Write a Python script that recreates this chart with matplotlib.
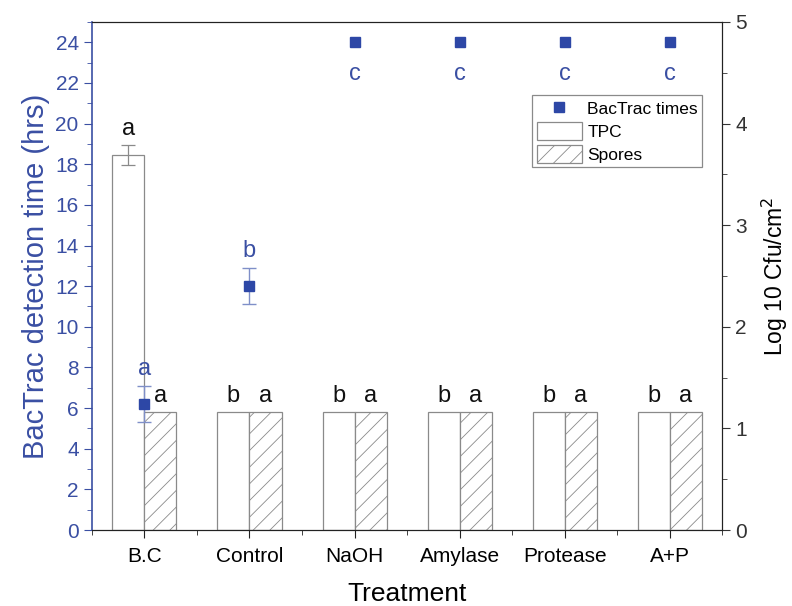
import matplotlib
matplotlib.use("Agg")
import matplotlib.pyplot as plt
import numpy as np
from matplotlib.patches import Patch
from matplotlib.lines import Line2D
from matplotlib.ticker import MultipleLocator

plt.rcParams['font.family'] = ['Liberation Sans', 'DejaVu Sans']
plt.rcParams['hatch.linewidth'] = 0.6
plt.rcParams['hatch.color'] = '#909090'

categories = ["B.C", "Control", "NaOH", "Amylase", "Protease", "A+P"]
tpc = [3.69, 1.16, 1.16, 1.16, 1.16, 1.16]
tpc_err = [0.1, 0, 0, 0, 0, 0]
spores = [1.16, 1.16, 1.16, 1.16, 1.16, 1.16]
bactrac = [6.2, 12.0, 24, 24, 24, 24]
bactrac_err = [0.87, 0.9, 0, 0, 0, 0]
tpc_letters = ["a", "b", "b", "b", "b", "b"]
spore_letters = ["a", "a", "a", "a", "a", "a"]
bactrac_letters = ["a", "b", "c", "c", "c", "c"]

blue = '#3a4fa3'
mblue = '#2d47a6'
gray = '#8a8a8a'

fig = plt.figure(figsize=(7.92, 6.06), dpi=100)
ax = fig.add_axes([0.116, 0.1254, 0.796, 0.8383])
x = np.arange(1, len(categories) + 1)
w = 0.305

ax.bar(x - w/2, tpc, w, color='white', edgecolor=gray, linewidth=0.9)
ax.errorbar(x[:1] - w/2, tpc[:1], yerr=tpc_err[:1], fmt='none', ecolor=gray, elinewidth=0.9, capsize=5, capthick=0.9)
ax.bar(x + w/2, spores, w, color='white', edgecolor=gray, linewidth=0.9, hatch='//')

for i in range(len(categories)):
    top_t = tpc[i] + tpc_err[i]
    ax.text(x[i] - w/2, top_t + 0.05, tpc_letters[i], ha='center', va='bottom', fontsize=17, color='#111111')
    ax.text(x[i] + w/2, spores[i] + 0.05, spore_letters[i], ha='center', va='bottom', fontsize=17, color='#111111')

ax.set_xlim(0.5, 6.5)
ax.set_ylim(0, 5)
ax.set_xticks(x)
ax.set_xticklabels(categories, fontsize=15)
ax.set_xticks(np.arange(0.5, 7, 1), minor=True)
ax.set_xlabel('Treatment', fontsize=19, labelpad=12)
ax.tick_params(axis='x', which='major', direction='out', length=6, color='#222222', pad=6)
ax.tick_params(axis='x', which='minor', direction='out', length=3.5, color='#222222')

ax2 = ax.twinx()
# bars axis on the right
ax.yaxis.tick_right()
ax.yaxis.set_label_position('right')
ax.set_ylabel('Log 10 Cfu/cm$^2$', fontsize=16.5, labelpad=9)
ax.yaxis.set_major_locator(MultipleLocator(1))
ax.yaxis.set_minor_locator(MultipleLocator(0.5))
ax.tick_params(axis='y', which='major', labelsize=15, direction='out', length=6, color='#333333',
               labelcolor='#333333', right=True, left=False, labelright=True, labelleft=False)
ax.tick_params(axis='y', which='minor', direction='out', length=3.5, color='#333333', right=True, left=False)

# BacTrac axis on the left
ax2.yaxis.tick_left()
ax2.yaxis.set_label_position('left')
ax2.plot(x, bactrac, 's', color=mblue, markersize=7, zorder=5)
ax2.errorbar(x[:2], bactrac[:2], yerr=bactrac_err[:2], fmt='none',
             ecolor='#7f8fc8', elinewidth=1.0, capsize=5, capthick=1.0, zorder=4)
for i in range(len(categories)):
    ypos = bactrac[i] + bactrac_err[i] + 0.3 if i < 2 else bactrac[i] - 2.1
    ax2.text(x[i], ypos, bactrac_letters[i], ha='center', va='bottom', fontsize=17, color=blue)
ax2.set_ylim(0, 25)
ax2.set_ylabel('BacTrac detection time (hrs)', fontsize=21, color=blue, labelpad=4)
ax2.set_yticks(np.arange(0, 25, 2))
ax2.yaxis.set_minor_locator(MultipleLocator(1))
ax2.tick_params(axis='y', which='major', labelsize=15, direction='out', length=6, color=blue,
                labelcolor=blue, left=True, right=False, labelleft=True, labelright=False)
ax2.tick_params(axis='y', which='minor', direction='out', length=3.5, color=blue, left=True, right=False)
ax2.spines['left'].set_color(blue)
ax2.spines['left'].set_linewidth(1.2)
for s in ['right', 'top', 'bottom']:
    ax2.spines[s].set_color('#222222')
    ax.spines[s].set_color('#222222')
ax.spines['left'].set_visible(False)

handles = [Line2D([], [], marker='s', linestyle='none', color=mblue, markersize=7),
           Patch(facecolor='white', edgecolor=gray, linewidth=0.9),
           Patch(facecolor='white', edgecolor=gray, linewidth=0.9, hatch='//')]
leg = ax2.legend(handles, ['BacTrac times', 'TPC', 'Spores'], loc='upper right',
                 bbox_to_anchor=(0.968, 0.856), fontsize=12.5, fancybox=False, framealpha=1,
                 edgecolor=gray, borderpad=0.25, labelspacing=0.28, handlelength=2.6,
                 handleheight=1.2, handletextpad=0.3, borderaxespad=0)
leg.get_frame().set_linewidth(0.9)

fig.savefig('out.png', dpi=100)
